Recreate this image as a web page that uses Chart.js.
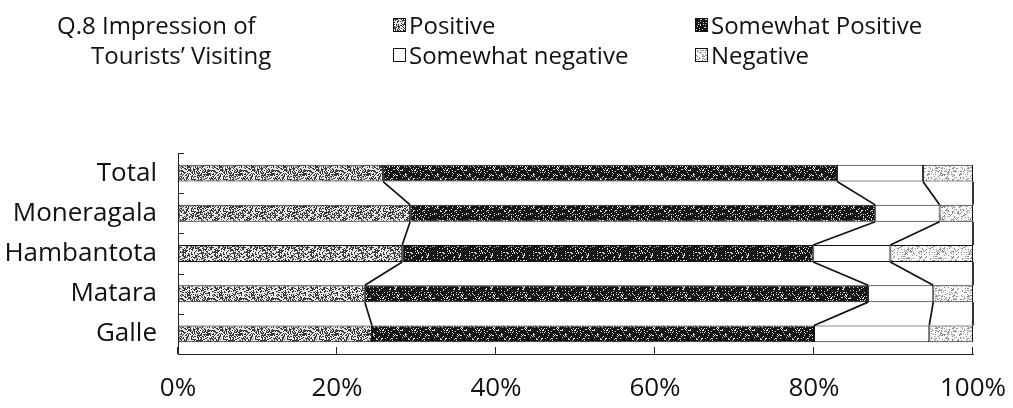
<!DOCTYPE html>
<html>
<head>
<meta charset="utf-8">
<script src="https://cdn.jsdelivr.net/npm/chart.js@4/dist/chart.umd.min.js"></script>
<style>
  html, body { margin: 0; padding: 0; background: #fff; }
  #wrap { position: relative; width: 1013px; height: 408px; overflow: hidden; }
  #chart { position: absolute; left: 0; top: 0; }
  .title { position: absolute; font-family: "Open Sans", sans-serif; font-size: 24px; line-height: 30px; color: #111; white-space: nowrap; }
  #legend { position: absolute; left: 393px; top: 10px; display: grid; grid-template-columns: 302px 260px; font-family: "Open Sans", sans-serif; font-size: 24px; line-height: 30px; color: #111; }
  .item { display: flex; align-items: center; white-space: nowrap; }
  .item canvas { display: block; margin-right: 3px; }
</style>
</head>
<body>
<div id="wrap">
  <canvas id="chart" width="1013" height="408"></canvas>
  <div class="title" style="left:57px; top:10px;">Q.8 Impression of</div>
  <div class="title" style="left:91px; top:40px;">Tourists’ Visiting</div>
  <div id="legend"></div>
</div>
<script>
// Districts surveyed, top to bottom
const categories = ['Total', 'Moneragala', 'Hambantota', 'Matara', 'Galle'];

// Share of respondents (%) per answer
const positive         = [25.8, 29.2, 28.2, 23.5, 24.4];
const somewhatPositive = [57.1, 58.5, 51.7, 63.3, 55.6];
const somewhatNegative = [10.8,  8.1,  9.7,  8.2, 14.5];
const negative         = [ 6.3,  4.2, 10.4,  5.0,  5.5];

const seriesNames = ['Positive', 'Somewhat Positive', 'Somewhat negative', 'Negative'];
const xTickValues = [0, 20, 40, 60, 80, 100];

// Deterministic grain for the halftone-style fills
function grain(x, y, seed) {
  let h = Math.imul(x, 374761393) + Math.imul(y, 668265263) + Math.imul(seed, 1442695041);
  h = Math.imul(h ^ (h >>> 13), 1274126177);
  h ^= h >>> 16;
  return (h >>> 0) / 4294967296;
}
function makeTile(dark, light, density, seed) {
  const c = document.createElement('canvas');
  c.width = 32; c.height = 32;
  const g = c.getContext('2d');
  g.fillStyle = light; g.fillRect(0, 0, 32, 32);
  g.fillStyle = dark;
  for (let y = 0; y < 32; y++) {
    for (let x = 0; x < 32; x++) {
      if (grain(x, y, seed) < density) g.fillRect(x, y, 1, 1);
    }
  }
  return c;
}

const tiles = [
  makeTile('#3a3a3a', '#e6e6e6', 0.45, 3),   // Positive
  makeTile('#151515', '#d8d8d8', 0.86, 7),   // Somewhat Positive
  makeTile('#ffffff', '#ffffff', 0.0, 11),   // Somewhat negative
  makeTile('#8a8a8a', '#f6f6f6', 0.22, 19)   // Negative
];

const canvas = document.getElementById('chart');
const ctx = canvas.getContext('2d');
const fills = tiles.map(t => ctx.createPattern(t, 'repeat'));

const seriesValues = [positive, somewhatPositive, somewhatNegative, negative];

// Lines joining each segment boundary from one bar to the next
const seriesLines = {
  id: 'seriesLines',
  afterDatasetsDraw(chart) {
    const c = chart.ctx;
    c.save();
    c.strokeStyle = '#111';
    c.lineWidth = 1.7;
    chart.data.datasets.forEach((ds, i) => {
      const bars = chart.getDatasetMeta(i).data;
      c.beginPath();
      for (let j = 0; j < bars.length - 1; j++) {
        const a = bars[j].getProps(['x', 'y', 'height'], true);
        const b = bars[j + 1].getProps(['x', 'y', 'height'], true);
        c.moveTo(a.x, a.y + a.height / 2);
        c.lineTo(b.x, b.y - b.height / 2);
      }
      c.stroke();
    });
    c.restore();
  }
};

// Short inward tick marks on both axes
const innerTicks = {
  id: 'innerTicks',
  afterDraw(chart) {
    const { ctx: c, scales: { x, y }, chartArea: ca } = chart;
    c.save();
    c.strokeStyle = '#222';
    c.lineWidth = 1;
    c.beginPath();
    x.ticks.forEach((t, i) => {
      const px = Math.round(x.getPixelForTick(i)) - 0.5;
      c.moveTo(px, ca.bottom);
      c.lineTo(px, ca.bottom - 7);
    });
    for (let k = 0; k <= categories.length; k++) {
      const py = Math.round(y.getPixelForValue(k - 0.5)) + 0.5;
      c.moveTo(ca.left, py);
      c.lineTo(ca.left + 6, py);
    }
    c.stroke();
    c.restore();
  }
};

const chart = new Chart(ctx, {
  type: 'bar',
  data: {
    labels: categories,
    datasets: seriesNames.map((name, i) => ({
      label: name,
      data: seriesValues[i],
      backgroundColor: fills[i],
      borderColor: '#111',
      borderWidth: 1,
      borderSkipped: false,
      barPercentage: 0.42,
      categoryPercentage: 1.0
    }))
  },
  options: {
    indexAxis: 'y',
    responsive: false,
    animation: false,
    layout: { padding: { top: 153, right: 40, bottom: 0, left: 0 } },
    plugins: {
      legend: { display: false },
      tooltip: { enabled: false }
    },
    scales: {
      x: {
        stacked: true,
        min: 0,
        max: 100,
        afterBuildTicks(scale) { scale.ticks = xTickValues.map(v => ({ value: v })); },
        afterFit(scale) { scale.height = 54; },
        grid: { drawOnChartArea: false, drawTicks: true, tickLength: 14, tickColor: 'rgba(0,0,0,0)' },
        border: { display: true, color: '#222', width: 1 },
        ticks: {
          padding: 5,
          color: '#111',
          font: { family: 'Open Sans', size: 26 },
          callback: v => v + '%'
        }
      },
      y: {
        stacked: true,
        afterFit(scale) { scale.width = 178; },
        grid: { display: false, drawTicks: false },
        border: { display: true, color: '#222', width: 1 },
        ticks: {
          padding: 21,
          color: '#111',
          font: { family: 'Open Sans', size: 26 }
        }
      }
    }
  },
  plugins: [seriesLines, innerTicks]
});

// Two-column legend built from the chart's datasets
const legendEl = document.getElementById('legend');
chart.data.datasets.forEach((ds, i) => {
  const item = document.createElement('div');
  item.className = 'item';
  const sw = document.createElement('canvas');
  sw.width = 13; sw.height = 14;
  const g = sw.getContext('2d');
  g.fillStyle = g.createPattern(tiles[i], 'repeat');
  g.fillRect(0, 0, 13, 14);
  g.strokeStyle = '#111';
  g.lineWidth = 1;
  g.strokeRect(0.5, 0.5, 12, 13);
  const txt = document.createElement('span');
  txt.textContent = ds.label;
  item.appendChild(sw);
  item.appendChild(txt);
  legendEl.appendChild(item);
});
</script>
</body>
</html>
